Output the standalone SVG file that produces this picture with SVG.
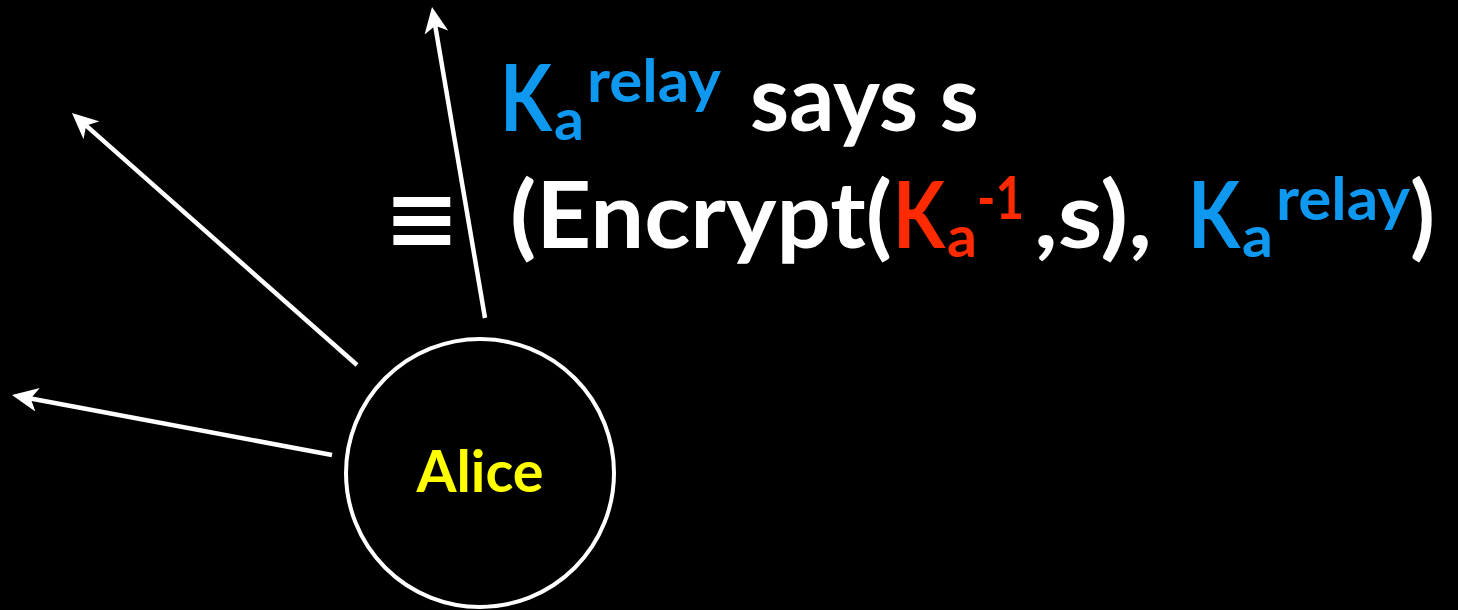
<svg xmlns="http://www.w3.org/2000/svg" width="1458" height="610" viewBox="0 0 1458 610">
<defs>
<style>
.t{font-family:Lato,"Open Sans","Liberation Sans",sans-serif;font-weight:700;}
.w{fill:#ffffff;}
.b{fill:#0f98f0;}
.r{fill:#ff2a00;}
.big{font-size:92px;}
.sm{font-size:60px;}
.conn line{stroke:#ffffff;stroke-width:4.5;fill:none;marker-end:url(#ah);}
</style>
<marker id="ah" markerUnits="userSpaceOnUse" viewBox="0 0 26 24" markerWidth="26" markerHeight="24" refX="7" refY="12" orient="auto">
<path d="M0,0 L26,12 L0,24 L7,12 Z" fill="#ffffff"/>
</marker>
</defs>
<rect x="0" y="0" width="1458" height="610" fill="#000000"/>
<g id="connectors" class="conn">
<line x1="485" y1="318" x2="435.2" y2="25.7"/>
<line x1="357" y1="365" x2="86.2" y2="125.6"/>
<line x1="332" y1="455" x2="30.7" y2="398.5"/>
</g>
<g id="alice">
<circle cx="480" cy="473" r="134" fill="#000000" stroke="#ffffff" stroke-width="4"/>
<text class="t" x="480" y="492" font-size="57" fill="#ffff00" text-anchor="middle" textLength="127" lengthAdjust="spacingAndGlyphs">Alice</text>
</g>
<g id="label">
<text class="t b big" x="500" y="131" textLength="52" lengthAdjust="spacingAndGlyphs">K</text>
<text class="t b" x="554" y="140" font-size="58" textLength="30" lengthAdjust="spacingAndGlyphs">a</text>
<text class="t b sm" x="587" y="102" textLength="134" lengthAdjust="spacingAndGlyphs">relay</text>
<text class="t w big" x="750" y="131" textLength="229" lengthAdjust="spacingAndGlyphs">says s</text>
<text x="384" y="248" font-family="DejaVu Sans" font-weight="700" font-size="87" fill="#ffffff" textLength="76" lengthAdjust="spacingAndGlyphs">≡</text>
<text class="t w big" x="510" y="248" textLength="382" lengthAdjust="spacingAndGlyphs">(Encrypt(</text>
<text class="t r big" x="893" y="248" textLength="52" lengthAdjust="spacingAndGlyphs">K</text>
<text class="t r" x="947" y="257" font-size="58" textLength="30" lengthAdjust="spacingAndGlyphs">a</text>
<text class="t r sm" x="977" y="219" textLength="47" lengthAdjust="spacingAndGlyphs">-1</text>
<text class="t w big" x="1034" y="248" textLength="118" lengthAdjust="spacingAndGlyphs">,s),</text>
<text class="t b big" x="1188" y="248" textLength="52" lengthAdjust="spacingAndGlyphs">K</text>
<text class="t b" x="1242" y="257" font-size="58" textLength="31" lengthAdjust="spacingAndGlyphs">a</text>
<text class="t b sm" x="1276" y="220" textLength="134" lengthAdjust="spacingAndGlyphs">relay</text>
<text class="t w big" x="1410" y="248" textLength="25" lengthAdjust="spacingAndGlyphs">)</text>
</g>
</svg>
